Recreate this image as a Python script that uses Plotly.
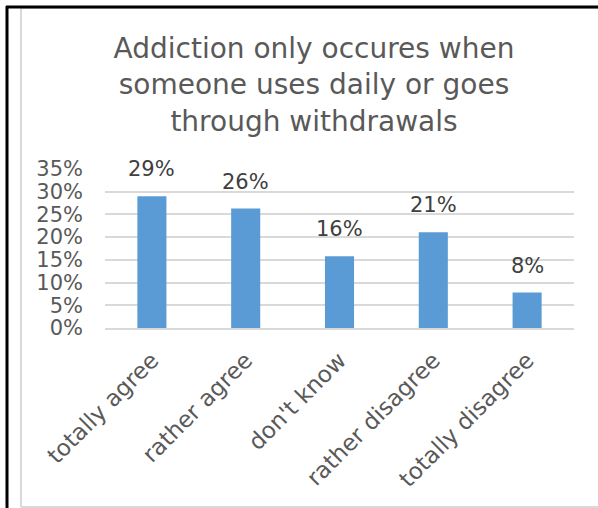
import plotly.graph_objects as go

categories = ["totally agree", "rather agree", "don't know", "rather disagree", "totally disagree"]
values = [29, 26.3, 15.8, 21.1, 7.8]
labels = ["29%", "26%", "16%", "21%", "8%"]
y_ticks = [0, 5, 10, 15, 20, 25, 30, 35]
y_tick_text = [f"{v}%" for v in y_ticks]
title_text = "Addiction only occures when<br>someone uses daily or goes<br>through withdrawals"

W, H = 598, 508
L, R, T, B = 105, 574, 169, 328  # plot area in pixels

def px(x):
    return (x - L) / (R - L)

def py(y):
    return (B - y) / (B - T)

FONT = "DejaVu Sans"
GREY = "#595959"

fig = go.Figure(go.Bar(
    x=categories, y=values,
    marker=dict(color="#5B9BD5", line=dict(width=0)),
    width=0.31, hoverinfo="skip",
))

for c, v, t in zip(categories, values, labels):
    fig.add_annotation(x=c, y=v, text=t, showarrow=False, yanchor="bottom",
                       yshift=13, font=dict(family=FONT, size=21, color="#404040"))

fig.update_layout(
    width=W, height=H,
    margin=dict(l=L, r=W - R, t=T, b=H - B, autoexpand=False),
    plot_bgcolor="white", paper_bgcolor="white",
    showlegend=False,
    title=dict(text=title_text, x=314 / W, xref="container", xanchor="center",
               y=1 - 58 / H, yref="container", yanchor="middle",
               font=dict(family=FONT, size=28, color=GREY)),
    xaxis=dict(tickangle=-45, tickfont=dict(family=FONT, size=23, color=GREY),
               showgrid=False, showline=True, linecolor="#D9D9D9", linewidth=1.5,
               ticks="", ticklabelstandoff=8, automargin=False),
    yaxis=dict(range=[0, 35], tickvals=y_ticks, ticktext=y_tick_text,
               tickfont=dict(family=FONT, size=21, color=GREY),
               showgrid=True, gridcolor="#D9D9D9", gridwidth=1.5,
               zeroline=False, showline=False, ticks="", ticklabelstandoff=21,
               automargin=False),
    shapes=[
        dict(type="line", xref="paper", yref="paper", x0=px(21), x1=px(600), y0=py(8), y1=py(8),
             line=dict(color="#D9D9D9", width=2), layer="below"),
        dict(type="line", xref="paper", yref="paper", x0=px(21), x1=px(21), y0=py(8), y1=py(507),
             line=dict(color="#D9D9D9", width=2)),
        dict(type="line", xref="paper", yref="paper", x0=px(21), x1=px(600), y0=py(507), y1=py(507),
             line=dict(color="#D9D9D9", width=2)),
        dict(type="line", xref="paper", yref="paper", x0=px(6), x1=px(600), y0=py(7), y1=py(7),
             line=dict(color="black", width=3)),
        dict(type="line", xref="paper", yref="paper", x0=px(7), x1=px(7), y0=py(6), y1=py(510),
             line=dict(color="black", width=3)),
    ],
)

fig.write_html("out.html", config={"displayModeBar": False},
               post_script="document.body.style.margin='0';document.body.style.padding='0';")
